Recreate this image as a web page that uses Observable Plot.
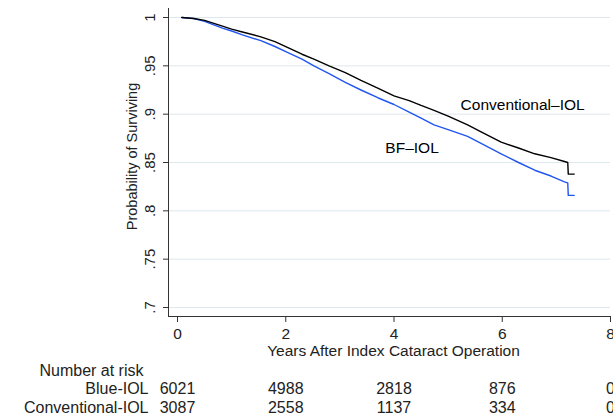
<!DOCTYPE html>
<html>
<head>
<meta charset="utf-8">
<script src="https://cdn.jsdelivr.net/npm/d3@7"></script>
<script src="https://cdn.jsdelivr.net/npm/@observablehq/plot@0.6"></script>
<style>
  html, body { margin: 0; padding: 0; background: #fff; }
  #chart svg { display: block; }
</style>
</head>
<body>
<div id="chart"></div>
<script>
// ---- data ----
const convTimes = [0.08,0.3,0.5,0.83,1.0,1.2,1.54,1.8,2.03,2.3,2.52,2.8,3.1,3.39,3.7,4.0,4.28,4.5,4.74,5.0,5.36,5.6,5.98,6.3,6.6,6.9,7.15,7.21,7.22,7.33];
const convSurv  = [1.0,0.999,0.997,0.991,0.988,0.985,0.980,0.975,0.969,0.962,0.957,0.950,0.943,0.935,0.927,0.919,0.914,0.909,0.904,0.898,0.889,0.882,0.871,0.865,0.859,0.855,0.851,0.850,0.838,0.838];
const blueTimes = [0.08,0.3,0.5,0.83,1.0,1.2,1.54,1.8,2.03,2.3,2.52,2.8,3.1,3.39,3.7,4.0,4.28,4.5,4.74,5.0,5.36,5.6,5.98,6.3,6.6,6.9,7.15,7.21,7.22,7.33];
const blueSurv  = [1.0,0.999,0.996,0.989,0.986,0.982,0.976,0.970,0.964,0.957,0.950,0.942,0.933,0.925,0.917,0.910,0.902,0.896,0.889,0.884,0.877,0.870,0.859,0.850,0.842,0.836,0.830,0.829,0.816,0.816];

const xTicks = [0, 2, 4, 6, 8];
const yTicks = [0.7, 0.75, 0.8, 0.85, 0.9, 0.95, 1];
const riskTimes = [0, 2, 4, 6, 8];
const blueRisk = [6021, 4988, 2818, 876, 0];
const convRisk = [3087, 2558, 1137, 334, 0];
const riskGroups = ["Blue-IOL", "Conventional-IOL"];
const seriesLabels = [
  {label: "Conventional\u2013IOL", t: 5.23, s: 0.909},
  {label: "BF\u2013IOL", t: 3.84, s: 0.8645}
];
const xTitle = "Years After Index Cataract Operation";
const yTitle = "Probability of Surviving";

// ---- build tables ----
const conv = convTimes.map((t, i) => ({t, s: convSurv[i]}));
const blue = blueTimes.map((t, i) => ({t, s: blueSurv[i]}));
const blueRows = riskTimes.map((t, i) => ({t, n: String(blueRisk[i])}));
const convRows = riskTimes.map((t, i) => ({t, n: String(convRisk[i])}));
const fmtY = d => d === 1 ? "1" : String(d).replace(/^0/, "");
const FONT = "'Liberation Sans', Arial, Helvetica, sans-serif";

const chart = Plot.plot({
  width: 613,
  height: 417,
  marginLeft: 168,
  marginRight: 3,
  marginTop: 8,
  marginBottom: 101,
  style: {fontFamily: FONT, fontSize: "15.5px", color: "#222", background: "#fff", overflow: "visible"},
  x: {domain: [0, 8], insetLeft: 9, insetRight: 0},
  y: {domain: [0.7, 1], insetTop: 9, insetBottom: 9},
  marks: [
    Plot.gridY(yTicks, {stroke: "#dce8ee", strokeOpacity: 1, strokeWidth: 1}),
    Plot.frame({anchor: "left", stroke: "#333"}),
    Plot.frame({anchor: "bottom", stroke: "#333"}),
    Plot.axisY({ticks: yTicks, tickSize: 5, tickFormat: () => "", label: null, stroke: "#333"}),
    Plot.text(yTicks, {y: d => d, text: fmtY, frameAnchor: "left", dx: -18, rotate: -90, textAnchor: "middle", fontSize: 15}),
    Plot.text([yTitle], {frameAnchor: "left", dx: -36, dy: -6, rotate: -90, textAnchor: "middle", fontSize: 14.5}),
    Plot.axisX({ticks: xTicks, tickSize: 6, tickPadding: 5, label: null, stroke: "#333", fontSize: 15.5}),
    Plot.text([xTitle], {frameAnchor: "bottom", dx: 4, dy: 39, fontSize: 15.5}),
    Plot.line(blue, {x: "t", y: "s", stroke: "#2255f0", strokeWidth: 1.4}),
    Plot.line(conv, {x: "t", y: "s", stroke: "#000", strokeWidth: 1.4}),
    Plot.text(seriesLabels, {x: "t", y: "s", text: "label", textAnchor: "start", fontSize: 15.5, fill: "#000"}),
    Plot.text(["Number at risk"], {frameAnchor: "bottom-left", dx: -25, dy: 59, textAnchor: "end", fontSize: 16}),
    Plot.text([riskGroups[0]], {frameAnchor: "bottom-left", dx: -20, dy: 77, textAnchor: "end", fontSize: 16}),
    Plot.text([riskGroups[1]], {frameAnchor: "bottom-left", dx: -20, dy: 96, textAnchor: "end", fontSize: 16}),
    Plot.text(blueRows, {x: "t", text: "n", frameAnchor: "bottom", dy: 77, fontSize: 16}),
    Plot.text(convRows, {x: "t", text: "n", frameAnchor: "bottom", dy: 96, fontSize: 16})
  ]
});
document.getElementById("chart").appendChild(chart);
</script>
</body>
</html>
